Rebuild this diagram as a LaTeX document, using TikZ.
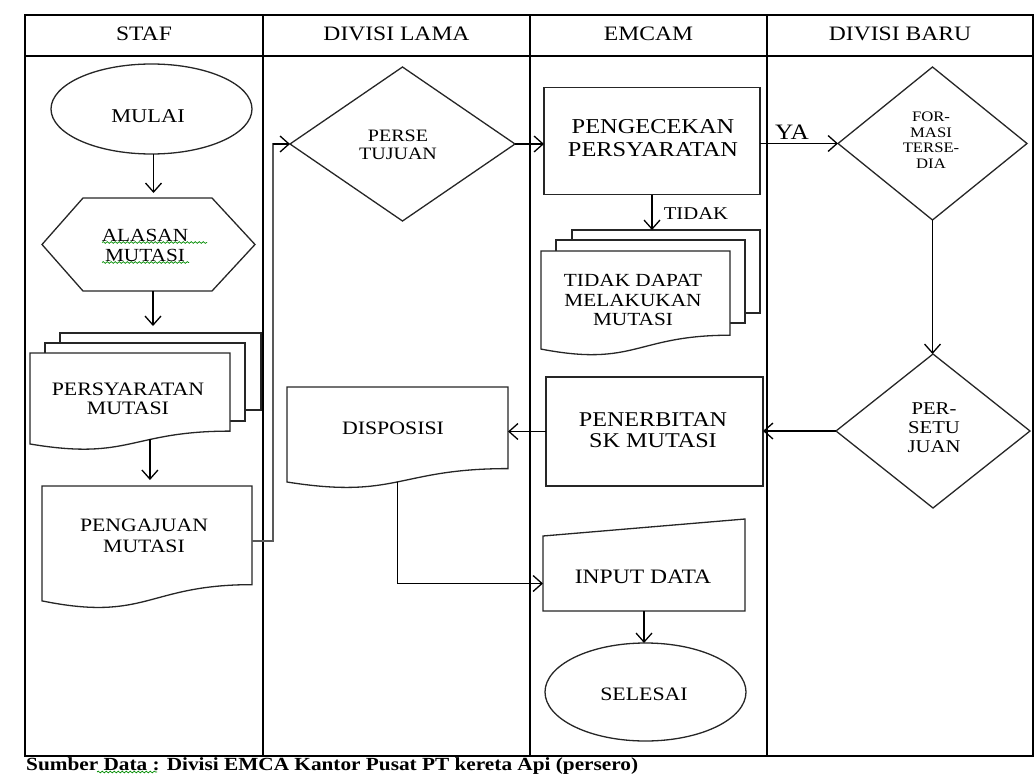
\documentclass[tikz,border=0pt]{standalone}
\usepackage{fontspec}
\setmainfont{Liberation Serif}[FakeStretch=1.15]
\usetikzlibrary{shapes.geometric,arrows.meta,decorations.pathmorphing,calc}
\newcommand{\fz}[2]{\fontsize{#1pt}{#2pt}\selectfont}
\newcommand{\docpath}[6]{%
  \filldraw[shp] (#1,#2) -- (#3,#2) -- (#3,{#2+0.802*#4})
    .. controls ({(#1+#3)/2},{#2+0.802*#4}) and ({(#1+#3)/2},{#2+1.1075*#4})
    .. coordinate[pos=#5] (#6) (#1,{#2+0.934*#4}) -- cycle;}
\tikzset{
  tbl/.style={line width=1.8pt, draw=black},
  shp/.style={line width=1.3pt, draw=black!85, fill=white},
  box0/.style={inner sep=0pt, outer sep=0pt, draw=none, rectangle},
  term/.style={shp, ellipse, inner sep=0pt, outer sep=0pt},
  proc/.style={shp, rectangle, inner sep=0pt, outer sep=0pt},
  dec/.style={shp, diamond, inner sep=0pt, outer sep=0pt},
  arr/.style={line width=1.3pt, draw=black, -{Straight Barb[length=9pt,width=16pt]}},
  dbl/.style={draw=black!65, line width=1.6pt, line join=miter},
  txt/.style={align=center, inner sep=0pt, text=black},
  squig/.style={draw=green!55!black, line width=0.7pt, decorate, decoration={snake, amplitude=0.9pt, segment length=4pt}}
}
\begin{document}
\begin{tikzpicture}[x=1pt,y=-1pt]
\useasboundingbox (0,0) rectangle (1035,773);
% swimlane table
\draw[tbl] (25,15) rectangle (1033,756);
\draw[tbl] (25,56) -- (1033,56);
\foreach \xx in {263,530,767} \draw[tbl] (\xx,15) -- (\xx,756);
\node[txt,font=\fz{20.5}{22}] (h1) at (144,34) {STAF};
\node[txt,font=\fz{20.5}{22}] (h2) at (396.5,34) {DIVISI LAMA};
\node[txt,font=\fz{20.5}{22}] (h3) at (648.5,34) {EMCAM};
\node[txt,font=\fz{20.5}{22}] (h4) at (900,34) {DIVISI BARU};

% ---------- STAF ----------
\node[term, minimum width=201pt, minimum height=90pt] (mulai) at (151.5,109) {};
\node[txt,font=\fz{19.5}{21}] (tmulai) at (148,116.5) {MULAI};

\node[box0, minimum width=213pt, minimum height=93pt] (alasan) at (148.5,244.5) {};
\filldraw[shp] (42,244.5) -- (83,198) -- (212,198) -- (255,244.5) -- (212,291) -- (83,291) -- cycle;
\node[txt,font=\fz{18.5}{20}] (talasan) at (145,245) {ALASAN\\MUTASI};
\draw[squig] (102,242.5) -- (207,242.5);
\draw[squig] (102,262.5) -- (189,262.5);

\filldraw[shp] (60,333) rectangle (261,410);
\filldraw[shp] (45,343) rectangle (245,421);
\docpath{30}{353}{230}{97.4}{0.37}{persybot}
\node[box0, minimum width=201pt, minimum height=77pt] (persyback) at (160.5,371.5) {};
\node[txt,font=\fz{19}{19}] (tpersy) at (128,399) {PERSYARATAN\\MUTASI};

\docpath{42}{486}{252}{123}{0.5}{pgjbot}
\node[box0, minimum width=210pt, minimum height=110pt] (pengajuan) at (147,541) {};
\node[txt,font=\fz{18.9}{21}] (tpengajuan) at (144,536) {PENGAJUAN\\MUTASI};

% ---------- DIVISI LAMA ----------
\node[dec, minimum width=225pt, minimum height=154pt] (perse) at (402.5,144) {};
\node[txt,font=\fz{17.4}{18}] (tperse) at (398,145) {PERSE\\TUJUAN};

\filldraw[shp] (287,387) -- (508,387) -- (508,468.6)
  .. controls (397.5,468.6) and (397.5,499.6) .. coordinate[pos=0.5] (dispbot) (287,482) -- cycle;
\node[box0, minimum width=221pt, minimum height=81pt] (dispo) at (397.5,427.5) {};
\node[txt,font=\fz{19}{20}] (tdispo) at (393,428) {DISPOSISI};

% ---------- EMCAM ----------
\node[proc, minimum width=216pt, minimum height=107pt] (cek) at (652,141) {};
\node[txt,font=\fz{21.2}{23}] (tcek) at (653,138) {PENGECEKAN\\PERSYARATAN};

\filldraw[shp] (572,230) rectangle (760,313);
\filldraw[shp] (556,240) rectangle (745,323);
\docpath{541}{251}{730}{105}{0.5}{tdbot}
\node[box0, minimum width=188pt, minimum height=83pt] (tdback) at (666,271.5) {};
\node[txt,font=\fz{18.5}{19.5}] (ttd) at (633,300) {TIDAK DAPAT\\MELAKUKAN\\MUTASI};

\node[proc, minimum width=217pt, minimum height=109pt] (sk) at (654.5,431.5) {};
\node[txt,font=\fz{21}{21.5}] (tsk) at (653,430) {PENERBITAN\\SK MUTASI};

\node[box0, minimum width=202pt, minimum height=75pt] (inp) at (644,573.5) {};
\filldraw[shp] (543,536) -- (745,519) -- (745,611) -- (543,611) -- cycle;
\node[txt,font=\fz{20.5}{22}] (tinp) at (643,577) {INPUT DATA};

\node[term, minimum width=201pt, minimum height=98pt] (selesai) at (645.5,692) {};
\node[txt,font=\fz{19}{20}] (tselesai) at (644,694) {SELESAI};

% ---------- DIVISI BARU ----------
\node[dec, minimum width=189pt, minimum height=153pt] (formasi) at (932.5,143.5) {};
\node[txt,font=\fz{14.5}{15.5}] (tformasi) at (931,140) {FOR-\\MASI\\TERSE-\\DIA};
\node[dec, minimum width=194pt, minimum height=154pt] (setuju) at (933,431) {};
\node[txt,font=\fz{18}{19}] (tsetuju) at (934,428) {PER-\\SETU\\JUAN};

% ---------- connectors ----------
\draw[arr, shorten >=5pt] ([xshift=2pt]mulai.south) -- ([xshift=2pt]mulai.south |- alasan.north);
\draw[arr, shorten >=7pt] ([xshift=4.5pt]alasan.south) -- ([xshift=4.5pt]alasan.south |- persyback.north);
\draw[arr, shorten >=6pt] (persybot) -- (persybot |- pengajuan.north);

\coordinate (k1) at ($(pengajuan.east)+(21,0)$);
\coordinate (k2) at (k1 |- perse.west);
\draw[dbl] (pengajuan.east) -- (k1) -- (k2) -- ++(4,0);
\draw[arr] (k2) -- (perse.west);

\draw[arr] (perse.east) -- (perse.east -| cek.west);
\draw[arr] (cek.east |- formasi.west) -- (formasi.west);
\node[txt,font=\fz{22}{24}] (lya) at (792,132.5) {YA};
\draw[arr] (cek.south) -- (cek.south |- tdback.north);
\node[txt,font=\fz{18}{20}] (ltidak) at (696,214) {TIDAK};

\draw[arr] (formasi.south) -- (formasi.south |- setuju.north);
\draw[arr] (setuju.west) -- (setuju.west -| sk.east);
\draw[arr] (sk.west) -- (sk.west -| dispo.east);
\draw[arr] (dispbot) |- ([yshift=-10pt]inp.west);
\draw[arr] (inp.south) -- (inp.south |- selesai.north);

% caption
\node[anchor=west, inner sep=0pt, font=\bfseries\fz{18.5}{20}] (cap) at (26,766) {Sumber Data : Divisi EMCA Kantor Pusat PT kereta Api (persero)};
\draw[squig] (97,772) -- (157,772);
\end{tikzpicture}
\end{document}
